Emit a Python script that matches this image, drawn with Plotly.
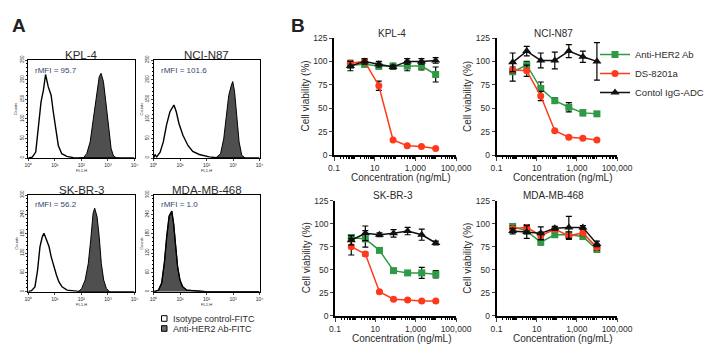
import plotly.graph_objects as go

# Target picture 725x359; the page body keeps an 8px margin, so the figure
# itself is 16px smaller and every pixel position is shifted by that margin.
PAGE_W, PAGE_H = 725, 359
BODY = 8
W, H = PAGE_W - 2 * BODY, PAGE_H - 2 * BODY

# ---------------- Panel A data (flow cytometry histograms) ----------------
# log10(FL1-H) positions and counts
kpl4_iso_log = [0.0, 0.15, 0.28, 0.38, 0.48, 0.57, 0.65, 0.75, 0.86, 0.94, 1.03, 1.13, 1.26, 1.45, 1.7, 2.2, 4.0]
kpl4_iso_cnt = [0, 2, 15, 75, 143, 173, 213, 182, 160, 118, 75, 32, 11, 4, 1, 0, 0]
kpl4_her_log = [1.9, 2.08, 2.2, 2.33, 2.45, 2.58, 2.67, 2.74, 2.83, 2.92, 3.02, 3.12, 3.21, 3.33, 3.45]
kpl4_her_cnt = [0, 1, 11, 41, 100, 160, 207, 216, 195, 143, 75, 24, 5, 0, 0]

nci_iso_log = [0.0, 0.06, 0.12, 0.25, 0.37, 0.49, 0.62, 0.72, 0.77, 0.86, 0.96, 1.11, 1.3, 1.48, 1.73, 2.1, 2.47, 4.0]
nci_iso_cnt = [0, 8, 3, 15, 41, 84, 118, 130, 135, 118, 88, 58, 32, 17, 9, 3, 0, 0]
nci_her_log = [2.35, 2.53, 2.65, 2.74, 2.84, 2.94, 2.99, 3.06, 3.15, 3.23, 3.33, 3.46]
nci_her_cnt = [0, 11, 49, 100, 160, 186, 195, 169, 100, 41, 7, 0]

skbr3_iso_log = [0.0, 0.12, 0.25, 0.35, 0.44, 0.53, 0.59, 0.68, 0.78, 0.86, 0.96, 1.06, 1.15, 1.27, 1.46, 1.7, 2.0, 4.0]
skbr3_iso_cnt = [0, 3, 15, 67, 140, 171, 181, 160, 140, 109, 78, 52, 31, 15, 5, 2, 0, 0]
skbr3_her_log = [1.89, 2.01, 2.14, 2.26, 2.35, 2.44, 2.5, 2.59, 2.67, 2.75, 2.84, 2.94, 3.06]
skbr3_her_cnt = [0, 10, 36, 88, 160, 243, 259, 233, 171, 88, 36, 10, 0]

mda_iso_log = [0.0, 0.19, 0.31, 0.41, 0.5, 0.59, 0.69, 0.76, 0.84, 0.91, 1.0, 1.1, 1.25, 1.56, 2.0, 4.0]
mda_iso_cnt = [0, 5, 28, 90, 172, 235, 250, 210, 138, 76, 35, 15, 5, 2, 0, 0]
mda_her_log = [0.05, 0.19, 0.31, 0.41, 0.5, 0.59, 0.69, 0.76, 0.84, 0.91, 1.0, 1.1, 1.25, 1.56, 2.0, 4.0]
mda_her_cnt = [0, 5, 26, 88, 171, 233, 248, 212, 140, 78, 36, 16, 5, 2, 0, 0]

hist_names = ["KPL-4", "NCI-N87", "SK-BR-3", "MDA-MB-468"]
hist_rmfi = ["rMFI = 95.7", "rMFI = 101.6", "rMFI = 56.2", "rMFI = 1.0"]
hist_ymax = [250, 250, 300, 300]
hist_ystep = [50, 50, 60, 60]
hist_xticktext = ["10⁰", "10¹", "10²", "10³", "10⁴"]

# ---------------- Panel B data (cell viability) ----------------
conc = [0.64, 3.2, 16, 80, 400, 2000, 10000]
series_names = ["Anti-HER2 Ab", "DS-8201a", "Contol IgG-ADC"]

kpl4_ab = [96, 97, 95, 95, 95, 95, 86]
kpl4_ds = [98, 100, 74, 16, 10, 9, 7]
kpl4_ctl = [95, 100, 97, 94, 100, 100, 101]
kpl4_ab_err = [3, 3, 3, 3, 5, 4, 8]
kpl4_ds_err = [3, 2, 5, 0, 0, 0, 0]
kpl4_ctl_err = [5, 3, 3, 2, 3, 3, 3]

nci_ab = [89, 96, 71, 58, 51, 45, 44]
nci_ds = [91, 90, 63, 26, 19, 18, 16]
nci_ctl = [99, 111, 101, 101, 111, 105, 100]
nci_ab_err = [10, 4, 7, 3, 5, 3, 2]
nci_ds_err = [3, 6, 5, 1, 1, 1, 1]
nci_ctl_err = [10, 5, 8, 9, 7, 6, 20]

skbr3_ab = [85, 83.5, 71, 49, 46.5, 46.5, 45]
skbr3_ds = [75, 67, 26, 18, 17, 16, 16]
skbr3_ctl = [82, 89.5, 88, 89.5, 92, 88, 79]
skbr3_ab_err = [3, 9, 2, 2, 2, 6, 4]
skbr3_ds_err = [9, 2, 1, 1, 1, 1, 1]
skbr3_ctl_err = [5, 8, 2, 4, 4, 6, 2]

mda_ab = [97, 92, 80, 88, 88, 86, 72]
mda_ds = [94.5, 96, 87, 94, 87, 90, 74]
mda_ctl = [92, 91, 89.5, 95, 96, 96, 78]
mda_ab_err = [3, 3, 3, 3, 3, 3, 3]
mda_ds_err = [3, 3, 4, 2, 4, 3, 3]
mda_ctl_err = [3, 7, 7, 2, 12, 2, 3]

via_names = ["KPL-4", "NCI-N87", "SK-BR-3", "MDA-MB-468"]
via_yticks = [0, 25, 50, 75, 100, 125]
conc_ticks = [0.1, 10, 1000, 100000]
conc_ticktext = ["0.1", "10", "1,000", "100,000"]

# ---------------- styling ----------------
FONT = "Arial, Liberation Sans, sans-serif"
TXT = "#2b2b2b"
GREEN = "#2f9a46"
RED = "#ff3a1c"
BLACK = "#111111"
FILL_GRAY = "#4f4f4f"


def fx(px):
    return (px - BODY) / W


def fy(py):
    return 1 - (py - BODY) / H


fig = go.Figure()

# axis domains in page pixels: (x0, x1, ytop, ybottom)
hist_boxes = [(28.3, 134.5, 60, 158), (153.5, 259.5, 60, 158),
              (28.3, 134.5, 195, 291.7), (153.5, 259.5, 195, 291.7)]
via_boxes = [(334, 456, 38, 155), (496.5, 617, 38, 155),
             (335, 456, 200.7, 315.7), (496.5, 617, 200.7, 315.7)]

hist_data = [
    (kpl4_iso_log, kpl4_iso_cnt, kpl4_her_log, kpl4_her_cnt),
    (nci_iso_log, nci_iso_cnt, nci_her_log, nci_her_cnt),
    (skbr3_iso_log, skbr3_iso_cnt, skbr3_her_log, skbr3_her_cnt),
    (mda_iso_log, mda_iso_cnt, mda_her_log, mda_her_cnt),
]

layout_axes = {}
annotations = []

for i, (iso_l, iso_c, her_l, her_c) in enumerate(hist_data):
    n = i + 1
    xa = "x" if n == 1 else f"x{n}"
    ya = "y" if n == 1 else f"y{n}"
    fig.add_trace(go.Scatter(
        x=her_l, y=her_c, mode="lines", fill="tozeroy",
        fillcolor=FILL_GRAY, line=dict(color="black", width=1),
        xaxis=xa, yaxis=ya, showlegend=False, hoverinfo="skip"))
    fig.add_trace(go.Scatter(
        x=iso_l, y=iso_c, mode="lines",
        line=dict(color="black", width=1.4),
        xaxis=xa, yaxis=ya, showlegend=False, hoverinfo="skip"))
    x0, x1, yt, yb = hist_boxes[i]
    yt_vals = list(range(0, hist_ymax[i] + 1, hist_ystep[i]))
    layout_axes[f"xaxis{n if n > 1 else ''}"] = dict(
        domain=[fx(x0), fx(x1)], anchor=ya, range=[0, 4],
        showgrid=False, zeroline=False, showline=True, linecolor="black",
        linewidth=1, mirror=True, ticks="outside", ticklen=2, tickwidth=0.8,
        tickvals=[0, 1, 2, 3, 4], ticktext=hist_xticktext, automargin=False,
        tickfont=dict(size=5, color=TXT, family=FONT))
    layout_axes[f"yaxis{n if n > 1 else ''}"] = dict(
        domain=[fy(yb), fy(yt)], anchor=xa, range=[0, hist_ymax[i]],
        showgrid=False, zeroline=False, showline=True, linecolor="black",
        linewidth=1, mirror=True, ticks="outside", ticklen=2, tickwidth=0.8,
        tickvals=yt_vals, tickangle=-90, automargin=False,
        minor=dict(ticks="outside", ticklen=1, tickcolor="black", dtick=hist_ystep[i] / 5),
        tickfont=dict(size=4.5, color=TXT, family=FONT))
    # title, rMFI, axis labels
    annotations.append(dict(text=hist_names[i], x=fx((x0 + x1) / 2), y=fy(yt - 5.5),
                            xref="paper", yref="paper", showarrow=False,
                            font=dict(size=11.5, color=TXT, family=FONT),
                            xanchor="center", yanchor="middle"))
    annotations.append(dict(text=hist_rmfi[i], x=fx(x0 + 5), y=fy(yt + 10),
                            xref="paper", yref="paper", showarrow=False,
                            font=dict(size=8, color="#34466e", family=FONT),
                            xanchor="left", yanchor="middle"))
    annotations.append(dict(text="FL1-H", x=fx((x0 + x1) / 2), y=fy(yb + 12.5),
                            xref="paper", yref="paper", showarrow=False,
                            font=dict(size=4, color=TXT, family=FONT),
                            xanchor="center", yanchor="middle"))
    annotations.append(dict(text="Counts", x=fx(x0 - 12), y=fy((yt + yb) / 2),
                            xref="paper", yref="paper", showarrow=False, textangle=-90,
                            font=dict(size=4, color=TXT, family=FONT),
                            xanchor="center", yanchor="middle"))

via_data = [
    ((kpl4_ab, kpl4_ab_err), (kpl4_ds, kpl4_ds_err), (kpl4_ctl, kpl4_ctl_err)),
    ((nci_ab, nci_ab_err), (nci_ds, nci_ds_err), (nci_ctl, nci_ctl_err)),
    ((skbr3_ab, skbr3_ab_err), (skbr3_ds, skbr3_ds_err), (skbr3_ctl, skbr3_ctl_err)),
    ((mda_ab, mda_ab_err), (mda_ds, mda_ds_err), (mda_ctl, mda_ctl_err)),
]
colors = [GREEN, RED, BLACK]
symbols = ["square", "circle", "triangle-up"]
msizes = [7, 7, 8]

for i, group in enumerate(via_data):
    n = i + 5
    xa, ya = f"x{n}", f"y{n}"
    for k, (vals, errs) in enumerate(group):
        fig.add_trace(go.Scatter(
            x=conc, y=vals, mode="lines+markers", name=series_names[k],
            line=dict(color=colors[k], width=1.5),
            marker=dict(symbol=symbols[k], size=msizes[k], color=colors[k],
                        line=dict(width=0)),
            error_y=dict(type="data", array=errs, color="black", thickness=1.2, width=3),
            xaxis=xa, yaxis=ya, cliponaxis=False,
            showlegend=(i == 1), legendrank=k + 1))
    x0, x1, yt, yb = via_boxes[i]
    layout_axes[f"xaxis{n}"] = dict(
        domain=[fx(x0), fx(x1)], anchor=ya, type="log", range=[-1, 5],
        showgrid=False, zeroline=False, showline=True, linecolor="black",
        linewidth=1.6, ticks="outside", ticklen=4, tickwidth=1.2,
        tickvals=conc_ticks, ticktext=conc_ticktext, automargin=False,
        minor=dict(ticks="outside", ticklen=2, tickwidth=0.8, tickcolor="black", dtick="D1"),
        tickfont=dict(size=8.5, color=TXT, family=FONT))
    layout_axes[f"yaxis{n}"] = dict(
        domain=[fy(yb), fy(yt)], anchor=xa, range=[0, 125],
        showgrid=False, zeroline=False, showline=True, linecolor="black",
        linewidth=1.6, ticks="outside", ticklen=3, tickwidth=1.2, automargin=False,
        tickvals=via_yticks, tickfont=dict(size=8.5, color=TXT, family=FONT))
    annotations.append(dict(text=via_names[i], x=fx((x0 + x1) / 2 - 3), y=fy(yt - 5),
                            xref="paper", yref="paper", showarrow=False,
                            font=dict(size=10, color=TXT, family=FONT),
                            xanchor="center", yanchor="middle"))
    annotations.append(dict(text="Concentration (ng/mL)", x=fx((x0 + x1) / 2 + 6), y=fy(yb + 22.5),
                            xref="paper", yref="paper", showarrow=False,
                            font=dict(size=10, color=TXT, family=FONT),
                            xanchor="center", yanchor="middle"))
    annotations.append(dict(text="Cell viability (%)", x=fx(x0 - 29), y=fy((yt + yb) / 2),
                            xref="paper", yref="paper", showarrow=False, textangle=-90,
                            font=dict(size=10, color=TXT, family=FONT),
                            xanchor="center", yanchor="middle"))

# panel letters
annotations.append(dict(text="<b>A</b>", x=fx(18.5), y=fy(25.5), xref="paper", yref="paper",
                        showarrow=False, font=dict(size=19, color="#222222", family=FONT),
                        xanchor="center", yanchor="middle"))
annotations.append(dict(text="<b>B</b>", x=fx(297.5), y=fy(25.5), xref="paper", yref="paper",
                        showarrow=False, font=dict(size=19, color="#222222", family=FONT),
                        xanchor="center", yanchor="middle"))

# panel A legend (text + swatches)
legendA_labels = ["Isotype control-FITC", "Anti-HER2 Ab-FITC"]
legendA_fills = ["white", "#6b6b6b"]
legendA_rows = [318.5, 328.5]
shapes = []
for lab, fc, ry in zip(legendA_labels, legendA_fills, legendA_rows):
    shapes.append(dict(type="rect", xref="paper", yref="paper",
                       x0=fx(161.5), x1=fx(167), y0=fy(ry + 2.8), y1=fy(ry - 2.8),
                       line=dict(color="black", width=1), fillcolor=fc))
    annotations.append(dict(text=lab, x=fx(170.5), y=fy(ry), xref="paper", yref="paper",
                            showarrow=False, font=dict(size=9, color=TXT, family=FONT),
                            xanchor="left", yanchor="middle"))

fig.update_layout(
    template="none",
    width=W, height=H, margin=dict(l=0, r=0, t=0, b=0, pad=0, autoexpand=False),
    paper_bgcolor="white", plot_bgcolor="white",
    font=dict(family=FONT, color=TXT),
    annotations=annotations, shapes=shapes,
    legend=dict(x=fx(595), y=fy(40), xanchor="left", yanchor="top",
                font=dict(size=9.5, color=TXT, family=FONT),
                bgcolor="rgba(0,0,0,0)", itemwidth=30, tracegroupgap=0,
                traceorder="normal", borderwidth=0),
    **layout_axes,
)

fig.write_html("out.html")
